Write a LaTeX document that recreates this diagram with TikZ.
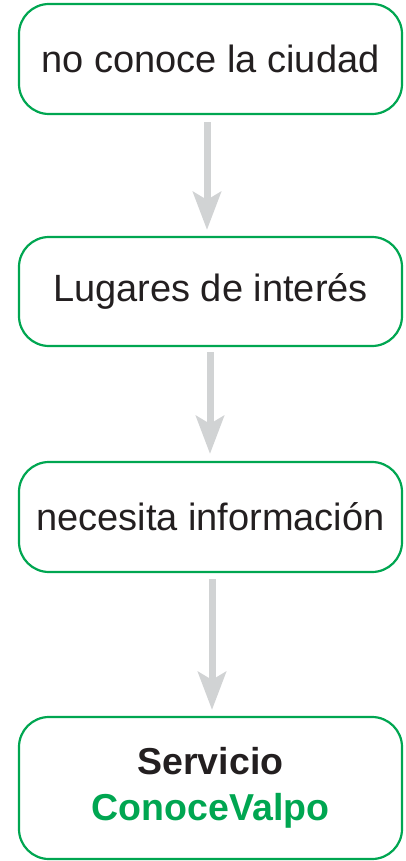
\documentclass[tikz,border=0pt]{standalone}
\usepackage{fontspec}
\setmainfont{Liberation Sans}
\usetikzlibrary{arrows.meta}
\definecolor{boxgreen}{HTML}{00A651}
\definecolor{arrowgray}{HTML}{D1D3D4}
\definecolor{txt}{HTML}{231F20}
\tikzset{
  flowbox/.style={draw=boxgreen, line width=2.2pt, rounded corners=30pt,
    minimum width=383pt, inner sep=0pt, align=center, text=txt,
    font=\fontsize{38}{46}\selectfont},
  flowarrow/.style={draw=arrowgray, line width=7pt,
    -{Stealth[length=38pt,width=28pt,inset=8pt]}}
}
\begin{document}
\begin{tikzpicture}[x=1pt,y=1pt]
\useasboundingbox (0,0) rectangle (406,-861);
\node[flowbox, minimum height=110pt] (b1) at (210.5,-59) {no conoce la ciudad};
\node[flowbox, minimum height=109pt] (b2) at (210.5,-291.5) {Lugares de interés};
\node[flowbox, minimum height=110pt] (b3) at (210.5,-517) {necesita información};
\node[flowbox, minimum height=142pt, font=\fontsize{37.5}{46}\selectfont] (b4) at (210.5,-788) {\textbf{Servicio}\\\textcolor{boxgreen}{\textbf{ConoceValpo}}};
\draw[flowarrow] ([xshift=-3.5pt,yshift=-7pt]b1.south) -- ([xshift=-3.5pt,yshift=6pt]b2.north);
\draw[flowarrow] ([xshift=-0.5pt,yshift=-5pt]b2.south) -- ([xshift=-0.5pt,yshift=7pt]b3.north);
\draw[flowarrow] ([xshift=1.5pt,yshift=-6pt]b3.south) -- ([xshift=1.5pt,yshift=6pt]b4.north);
\end{tikzpicture}
\end{document}
